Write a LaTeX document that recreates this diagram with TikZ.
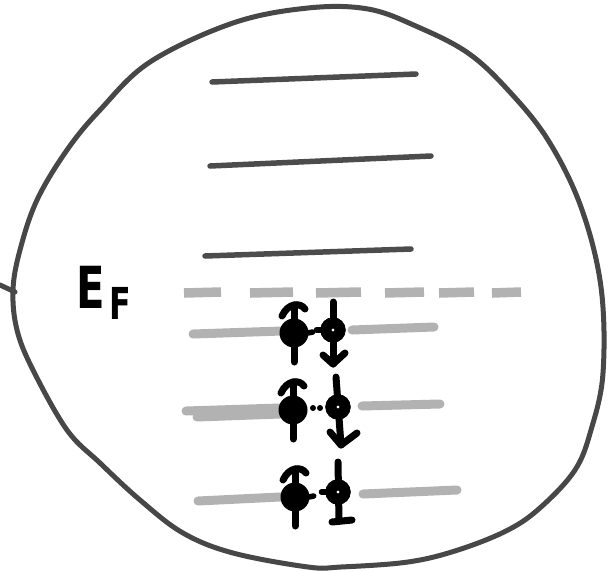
\documentclass[tikz,border=0pt]{standalone}
\usepackage{fontspec}
\setmainfont{DejaVu Sans}
\usetikzlibrary{arrows.meta}
\begin{document}
\begin{tikzpicture}[x=1pt,y=-1pt,
  outline/.style={line width=5pt,draw=black!72,line cap=round},
  level/.style={line width=5.5pt,draw=black!70,line cap=round},
  graylevel/.style={line width=9pt,draw=black!30,line cap=round},
  efdash/.style={line width=9.5pt,draw=black!30},
  spinup/.style={circle,fill=black,inner sep=0pt,minimum size=29pt},
  spindown/.style={circle,draw=black,line width=11pt,fill=white,inner sep=0pt,minimum size=14pt},
  stem/.style={line width=7pt,line cap=round,line join=round,draw=black},
  bond/.style={line width=5.5pt,line cap=round}
]
\useasboundingbox (0,0) rectangle (616,571);
% outline blob
\draw[outline] plot[smooth cycle,tension=0.6] coordinates {
 (13,290) (20,250) (37,200) (67,150) (100,110) (150,62) (233,23) (308,8)
 (368,9) (418,27) (468,53) (508,90) (548,140) (581,207) (601,287)
 (603,373) (591,430) (575,470) (541,507) (508,530) (458,550) (408,562)
 (341,567) (308,567) (233,553) (183,533) (140,500) (100,463) (67,430)
 (33,370) (17,330)};
\coordinate (tickA) at (0,285);
\coordinate (tickB) at (15,292);
\draw[outline] (tickA) -- (tickB);
% upper levels
\coordinate (l1a) at (212,82); \coordinate (l1b) at (416,74);
\coordinate (l2a) at (210,166); \coordinate (l2b) at (431,156);
\coordinate (l3a) at (205,256); \coordinate (l3b) at (411,249);
\draw[level] (l1a) -- (l1b);
\draw[level] (l2a) -- (l2b);
\draw[level] (l3a) -- (l3b);
% Fermi level dashes
\foreach \a/\b in {184/221,250/293,316/361,385/424,439/474,492/521}
  \draw[efdash] (\a,293) -- (\b,292);
\node[inner sep=0pt,anchor=north west] (ef) at (76,266)
  {\scalebox{0.72}[1]{\fontsize{58}{58}\selectfont\bfseries E\kern0.12em\raisebox{-0.19em}{\fontsize{44}{44}\selectfont F}}};
% lower gray levels
\coordinate (g1a) at (193,334); \coordinate (g1b) at (282,331);
\coordinate (g1c) at (352,330); \coordinate (g1d) at (434,327);
\coordinate (g2a) at (186,411); \coordinate (g2b) at (280,408);
\coordinate (g2e) at (197,417); \coordinate (g2f) at (280,414);
\coordinate (g2c) at (362,406); \coordinate (g2d) at (440,404);
\coordinate (g3a) at (198,501); \coordinate (g3b) at (280,497);
\coordinate (g3c) at (363,494); \coordinate (g3d) at (457,490);
\foreach \p/\q in {g1a/g1b,g1c/g1d,g2a/g2b,g2e/g2f,g2c/g2d,g3a/g3b,g3c/g3d}
  \draw[graylevel] (\p) -- (\q);
% spin-up electrons
\foreach \i/\ux/\uy in {1/294/333, 2/293/410, 3/295/497}{
  \node[spinup] (u\i) at (\ux,\uy) {};
  \draw[stem] ([yshift=-29pt]u\i.center) -- ([yshift=28pt]u\i.center);
  \draw[stem] ([xshift=-12pt,yshift=17pt]u\i.center)
     .. controls ([xshift=-6pt,yshift=30pt]u\i.center) and ([xshift=6pt,yshift=31pt]u\i.center)
     .. ([xshift=11pt,yshift=24pt]u\i.center);
}
% spin-down electrons
\node[spindown] (d1) at (333,330) {};
\node[spindown] (d2) at (338,407) {};
\node[spindown] (d3) at (338,492) {};
\draw[stem] ([yshift=28pt]d1.center) -- ([yshift=-34pt]d1.center);
\draw[stem] ([xshift=-10pt,yshift=-25pt]d1.center) -- ([yshift=-34pt]d1.center) -- ([xshift=12pt,yshift=-23pt]d1.center);
\draw[stem] ([xshift=-2pt,yshift=30pt]d2.center) -- ([xshift=3pt,yshift=-38pt]d2.center);
\draw[stem] ([xshift=-8pt,yshift=-25pt]d2.center) -- ([xshift=3pt,yshift=-38pt]d2.center) -- ([xshift=19pt,yshift=-26pt]d2.center);
\draw[stem] ([yshift=30pt]d3.center) -- ([xshift=1pt,yshift=-29pt]d3.center);
\draw[stem] ([xshift=-6pt,yshift=-30pt]d3.center) -- ([xshift=14pt,yshift=-28pt]d3.center);
% redraw the rings over the stems
\node[spindown] at (d1) {};
\node[spindown] at (d2) {};
\node[spindown] at (d3) {};
% small marks between the pairs
\draw[bond] ([xshift=-1pt]u1.east) -- ([xshift=4pt,yshift=1pt]u1.east);
\draw[bond] ([xshift=1pt]d1.west) -- ([xshift=-4pt]d1.west);
\draw[bond] ([xshift=-1pt]u3.east) -- ([xshift=4pt,yshift=1pt]u3.east);
\draw[bond] ([xshift=1pt]d3.west) -- ([xshift=-4pt]d3.west);
\node[circle,fill=black,inner sep=0pt,minimum size=6pt] (m1) at (313,408) {};
\node[circle,fill=black,inner sep=0pt,minimum size=6pt] (m2) at (320,408) {};
\end{tikzpicture}
\end{document}
